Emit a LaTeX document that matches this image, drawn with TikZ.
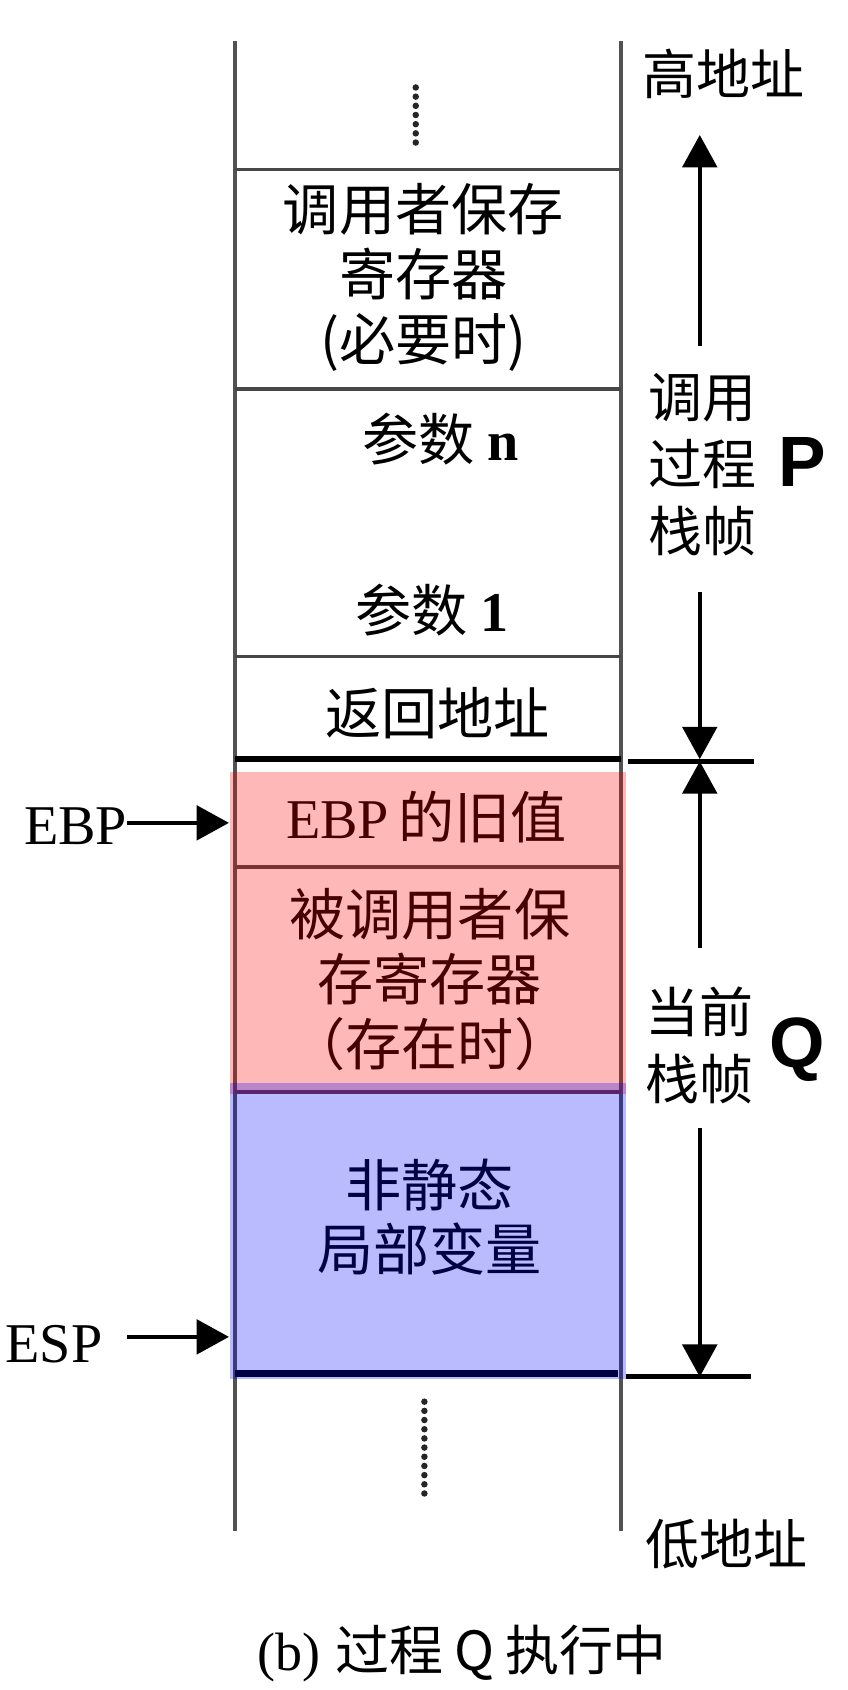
\documentclass[tikz,border=0pt]{standalone}
\usepackage{fontspec}
\setmainfont{Liberation Serif}
\newfontfamily\cjk{Noto Sans CJK SC}
\newfontfamily\bsans{Liberation Sans}
\usetikzlibrary{arrows.meta}
\begin{document}
\begin{tikzpicture}[x=1pt,y=-1pt,
  wall/.style={draw=black!68, line width=3.8pt},
  sep/.style={draw=black!72, line width=3.4pt},
  cell/.style={font=\cjk\fontsize{52}{60}\selectfont, align=center, inner sep=0pt},
  side/.style={font=\cjk\fontsize{50}{62}\selectfont, align=left, inner sep=0pt},
  big/.style={font=\bsans\bfseries\fontsize{66}{66}\selectfont, inner sep=0pt},
  reg/.style={font=\rmfamily\fontsize{52}{52}\selectfont, inner sep=0pt},
  arr/.style={draw=black, line width=3.6pt, -{Triangle[width=32pt,length=30pt]}},
  dots/.style={line width=6pt, dash pattern=on 0pt off 8.5pt, line cap=round, draw=black!85},
]
\fill[white] (0,0) rectangle (785,1565);
\useasboundingbox (0,0) rectangle (785,1565);

% cell texts
\node[cell] (c1) at (392,257) {调用者保存\\寄存器\\(必要时)};
\node[cell] (c2a) at (408,407) {参数 {\rmfamily\bfseries n}};
\node[cell] (c2b) at (400,565) {参数 {\rmfamily\bfseries 1}};
\node[cell] (c3) at (405,660) {返回地址};
\node[cell] (c4) at (395,757) {{\rmfamily EBP}\,的旧值};
\node[cell] (c5) at (398,907) {被调用者保\\存寄存器\\（存在时）};
\node[cell] (c6) at (398,1127) {非静态\\局部变量};

% walls and separators
\draw[wall] (218,38) -- (218,1418);
\draw[wall] (575,38) -- (575,1418);
\draw[sep] (218,157) -- (575,157);
\draw[sep] (218,360) -- (575,360);
\draw[sep] (218,608) -- (575,608);
\draw[sep] (218,803) -- (575,803);
\draw[sep] (218,1011) -- (575,1011);
\draw[black, line width=5.5pt] (218,703) -- (575,703);
\draw[black, line width=4.5pt] (582,705) -- (698,705);
\draw[black, line width=6.5pt] (218,1272) -- (572,1272);
\draw[black, line width=4.5pt] (580,1275) -- (695,1275);

% dots
\draw[dots] (385,81) -- (385,136);
\draw[dots] (393,1298) -- (393,1384);

% overlays
\fill[red, opacity=0.28] (213,715) rectangle (580,1013);
\fill[blue, opacity=0.27] (213,1003) rectangle (580,1277);

% side labels
\node[side, anchor=west] (hi) at (595,68) {高地址};
\node[side, anchor=west] (pl) at (600,430) {调用\\过程\\栈帧};
\node[big] (P) at (743,428) {P};
\node[side, anchor=west] (ql) at (598,968) {当前\\栈帧};
\node[big] (Q) at (738,972) {Q};
\node[side, anchor=west] (lo) at (598,1430) {低地址};

% range arrows
\coordinate (a1s) at (648,320); \coordinate (a1e) at (648,125);
\coordinate (a2s) at (648,548); \coordinate (a2e) at (648,703);
\coordinate (a3s) at (648,878); \coordinate (a3e) at (648,705);
\coordinate (a4s) at (648,1045); \coordinate (a4e) at (648,1275);
\draw[arr] (a1s) -- (a1e);
\draw[arr] (a2s) -- (a2e);
\draw[arr] (a3s) -- (a3e);
\draw[arr] (a4s) -- (a4e);

% pointers
\node[reg, anchor=east] (ebp) at (118,765) {EBP};
\coordinate (ebpS) at (118,762); \coordinate (ebpT) at (212,762);
\draw[arr] (ebpS) -- (ebpT);
\node[reg] (esp) at (50,1245) {ESP};
\coordinate (espS) at (118,1238); \coordinate (espT) at (212,1238);
\draw[arr] (espS) -- (espT);

% caption
\node[font=\cjk\fontsize{50}{60}\selectfont, inner sep=0pt] (cap) at (428,1531) {{\rmfamily (b)}\hspace{14pt}过程\hspace{10pt}Q\hspace{10pt}执行中};
\end{tikzpicture}
\end{document}
